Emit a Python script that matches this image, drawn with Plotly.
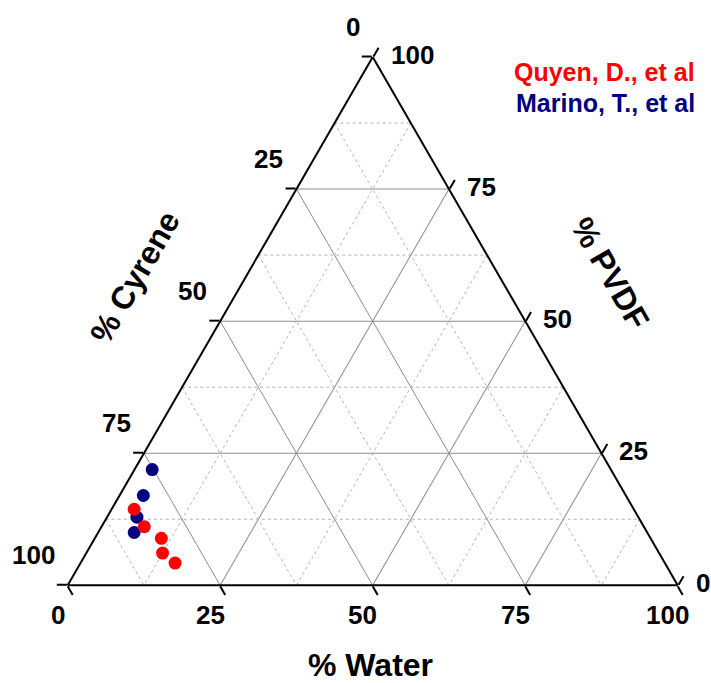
import plotly.graph_objects as go

# ---- data (percent) ----
quyen_pvdf = [14.4, 11.1, 8.9, 6.1, 4.2]
quyen_water = [3.7, 7.0, 10.9, 12.5, 15.5]
quyen_cyrene = [81.9, 81.9, 80.2, 81.4, 80.3]

marino_pvdf = [21.9, 17.0, 12.9, 10.0]
marino_water = [2.9, 3.9, 4.9, 5.9]
marino_cyrene = [75.2, 79.1, 82.2, 84.1]

tick_values = [0, 25, 50, 75, 100]
tick_labels = ["0", "25", "50", "75", "100"]
minor_levels = [12.5, 37.5, 62.5, 87.5]

FONT = "Liberation Sans, Arial, sans-serif"

W, H = 711, 683
x0, x1 = 67.7, 677.7          # triangle base, px
ybot = 585.3
side = x1 - x0
height_tri = side * 3 ** 0.5 / 2
ytop = ybot - height_tri

fig = go.Figure()

# minor dotted grid lines (constant value of each component)
for v in minor_levels:
    r = 100 - v
    for a, b, c in (
        ([v, v], [r, 0], [0, r]),   # constant PVDF
        ([r, 0], [v, v], [0, r]),   # constant Cyrene
        ([r, 0], [0, r], [v, v]),   # constant Water
    ):
        fig.add_trace(go.Scatterternary(
            a=a, b=b, c=c, mode="lines",
            line=dict(color="#b4b4b4", width=1, dash="dot"),
            hoverinfo="skip", showlegend=False))

fig.add_trace(go.Scatterternary(
    a=marino_pvdf, b=marino_cyrene, c=marino_water, mode="markers",
    name="Marino, T., et al",
    marker=dict(color="#000080", size=13, line=dict(width=0)),
    showlegend=False))
fig.add_trace(go.Scatterternary(
    a=quyen_pvdf, b=quyen_cyrene, c=quyen_water, mode="markers",
    name="Quyen, D., et al",
    marker=dict(color="#ff0000", size=13, line=dict(width=0)),
    showlegend=False))

tickfont = dict(family=FONT, size=26, color="black", weight="bold")
axis_common = dict(
    tickmode="array", tickvals=tick_values,
    ticks="outside", ticklen=10, tickwidth=1.5, tickcolor="black",
    linecolor="black", linewidth=2,
    showgrid=True, gridcolor="#8c8c8c", gridwidth=1,
    showticklabels=False,
    title=dict(text=""),
)

fig.update_layout(
    width=W, height=H,
    margin=dict(l=0, r=0, t=0, b=0),
    paper_bgcolor="white",
    font=dict(family=FONT, color="black"),
    ternary=dict(
        sum=100,
        bgcolor="white",
        domain=dict(x=[x0 / W, x1 / W], y=[(H - ybot) / H, (H - ytop) / H]),
        aaxis=axis_common,
        baxis=axis_common,
        caxis=axis_common,
    ),
    showlegend=False,
)


def add_label(text, px, py, xanchor):
    fig.add_annotation(text=text, x=px / W, y=1 - py / H,
                       xref="paper", yref="paper", showarrow=False,
                       borderpad=0, font=tickfont, xanchor=xanchor, yanchor="middle")


# tick labels, placed from the triangle geometry (counter-clockwise reading)
for v, lab in zip(tick_values, tick_labels):
    f = v / 100
    # % Cyrene along the left edge (100 at bottom-left, 0 at apex)
    ex = x0 + (1 - f) * side / 2
    ey = ybot - (1 - f) * height_tri
    add_label(lab, ex - 12, ey - 30, "right")
    # % Water along the bottom edge (0 at left, 100 at right)
    ex = x0 + f * side
    add_label(lab, ex - 10, ybot + 30, "center")
    # % PVDF along the right edge (0 at bottom-right, 100 at apex)
    ex = x1 - f * side / 2
    ey = ybot - f * height_tri
    add_label(lab, ex + 17, ey - 2, "left")

title_font = dict(family=FONT, size=32, color="black", weight="bold")
fig.add_annotation(text="% Water", x=370 / W, y=1 - 665 / H, xref="paper", yref="paper",
                   showarrow=False, font=title_font, xanchor="center", yanchor="middle")
fig.add_annotation(text="% Cyrene", x=135 / W, y=1 - 277 / H, xref="paper", yref="paper",
                   showarrow=False, font=title_font, textangle=-60,
                   xanchor="center", yanchor="middle")
fig.add_annotation(text="% PVDF", x=610 / W, y=1 - 273 / H, xref="paper", yref="paper",
                   showarrow=False, font=title_font, textangle=60,
                   xanchor="center", yanchor="middle")

legend_font = dict(family=FONT, size=25, weight="bold")
fig.add_annotation(text="Quyen, D., et al", x=697 / W, y=1 - 72 / H, xref="paper", yref="paper",
                   showarrow=False, font=dict(legend_font, color="#ff0000"),
                   xanchor="right", yanchor="middle")
fig.add_annotation(text="Marino, T., et al", x=697 / W, y=1 - 103 / H, xref="paper", yref="paper",
                   showarrow=False, font=dict(legend_font, color="#000080"),
                   xanchor="right", yanchor="middle")

fig.write_html(
    "out.html",
    config={"displayModeBar": False},
    post_script="document.body.style.margin='0';document.body.style.overflow='hidden';",
)
